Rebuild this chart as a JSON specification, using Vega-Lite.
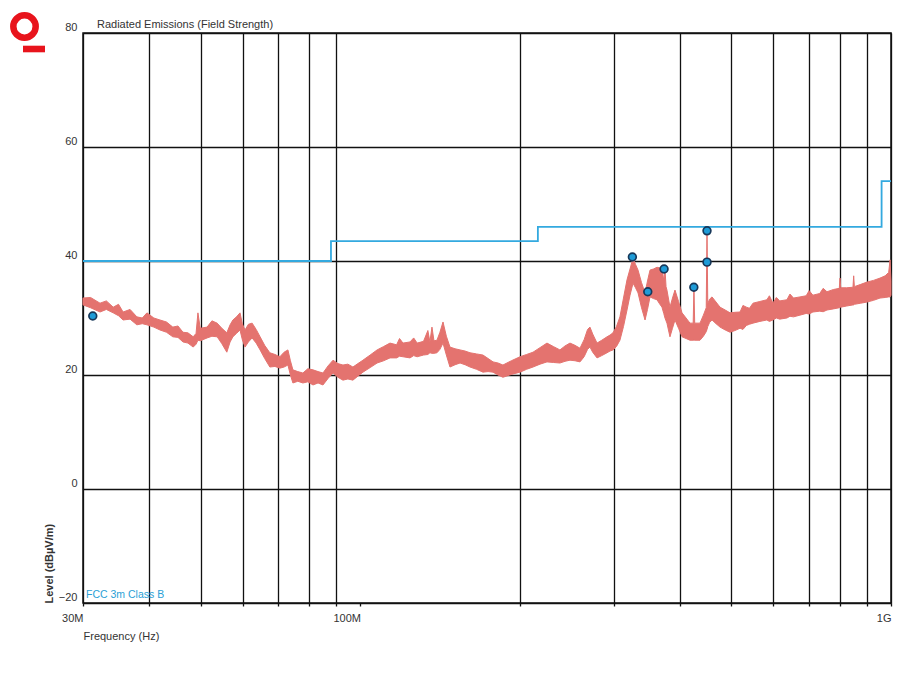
{
  "$schema": "https://vega.github.io/schema/vega-lite/v6.json",
  "width": 808,
  "height": 570,
  "autosize": {"type": "none"},
  "padding": {"left": 83, "top": 33, "right": 15, "bottom": 81},
  "background": "white",
  "config": {
    "font": "Liberation Sans",
    "view": {"stroke": "#111", "strokeWidth": 1.5}
  },
  "datasets": {
    "trace": [
      {"f": 30.0, "lo": 32.3, "hi": 33.5}, {"f": 31.0, "lo": 31.8, "hi": 33.6}, {"f": 32.3, "lo": 31.05, "hi": 32.6},
      {"f": 33.2, "lo": 31.5, "hi": 33.0}, {"f": 34.2, "lo": 30.9, "hi": 31.9}, {"f": 35.0, "lo": 30.4, "hi": 32.4},
      {"f": 35.7, "lo": 29.65, "hi": 31.05}, {"f": 36.8, "lo": 29.8, "hi": 31.5}, {"f": 37.9, "lo": 28.8, "hi": 30.2},
      {"f": 38.8, "lo": 29.0, "hi": 30.0}, {"f": 39.6, "lo": 28.8, "hi": 30.9}, {"f": 40.8, "lo": 28.4, "hi": 30.0},
      {"f": 41.9, "lo": 27.9, "hi": 29.65}, {"f": 43.1, "lo": 27.5, "hi": 29.3}, {"f": 44.3, "lo": 26.7, "hi": 28.4},
      {"f": 45.3, "lo": 26.6, "hi": 28.6}, {"f": 46.3, "lo": 25.8, "hi": 27.5}, {"f": 47.3, "lo": 25.6, "hi": 27.4},
      {"f": 48.4, "lo": 24.9, "hi": 26.7}, {"f": 49.0, "lo": 25.4, "hi": 27.3}, {"f": 49.4, "lo": 26.1, "hi": 30.9},
      {"f": 49.9, "lo": 26.0, "hi": 28.2}, {"f": 51.4, "lo": 26.5, "hi": 28.4}, {"f": 52.5, "lo": 26.8, "hi": 29.5},
      {"f": 53.7, "lo": 26.7, "hi": 29.1}, {"f": 54.8, "lo": 25.5, "hi": 28.2}, {"f": 56.0, "lo": 24.0, "hi": 27.4},
      {"f": 56.8, "lo": 25.8, "hi": 28.8}, {"f": 57.5, "lo": 26.7, "hi": 29.65}, {"f": 58.4, "lo": 27.3, "hi": 30.2},
      {"f": 59.3, "lo": 27.9, "hi": 30.9}, {"f": 59.9, "lo": 26.2, "hi": 29.0}, {"f": 60.6, "lo": 24.9, "hi": 27.9},
      {"f": 61.5, "lo": 25.8, "hi": 28.9}, {"f": 62.5, "lo": 26.5, "hi": 29.1}, {"f": 63.6, "lo": 25.6, "hi": 28.0},
      {"f": 64.7, "lo": 24.4, "hi": 26.7}, {"f": 66.0, "lo": 22.9, "hi": 25.2}, {"f": 67.5, "lo": 21.4, "hi": 23.9},
      {"f": 69.0, "lo": 21.5, "hi": 23.6}, {"f": 70.5, "lo": 21.2, "hi": 23.2}, {"f": 71.8, "lo": 21.4, "hi": 24.0},
      {"f": 73.0, "lo": 21.75, "hi": 24.4}, {"f": 73.8, "lo": 20.0, "hi": 22.5}, {"f": 74.6, "lo": 18.6, "hi": 20.9},
      {"f": 76.2, "lo": 18.9, "hi": 20.6}, {"f": 77.9, "lo": 18.6, "hi": 20.35}, {"f": 79.6, "lo": 18.8, "hi": 21.1},
      {"f": 81.4, "lo": 18.25, "hi": 20.9}, {"f": 83.2, "lo": 18.6, "hi": 20.6}, {"f": 85.0, "lo": 18.25, "hi": 20.35},
      {"f": 86.9, "lo": 19.4, "hi": 21.6}, {"f": 88.8, "lo": 20.35, "hi": 22.6}, {"f": 90.7, "lo": 19.6, "hi": 22.0},
      {"f": 92.7, "lo": 19.1, "hi": 21.75}, {"f": 94.7, "lo": 19.3, "hi": 21.9}, {"f": 96.8, "lo": 19.1, "hi": 21.4},
      {"f": 98.9, "lo": 19.8, "hi": 22.0}, {"f": 101.1, "lo": 20.5, "hi": 22.6}, {"f": 104.3, "lo": 21.3, "hi": 23.5},
      {"f": 107.5, "lo": 22.1, "hi": 24.4}, {"f": 110.6, "lo": 22.5, "hi": 25.0}, {"f": 113.7, "lo": 23.0, "hi": 25.6},
      {"f": 117.0, "lo": 23.0, "hi": 25.3}, {"f": 118.5, "lo": 23.3, "hi": 26.4}, {"f": 120.3, "lo": 23.2, "hi": 25.6},
      {"f": 124.0, "lo": 23.0, "hi": 25.8}, {"f": 126.0, "lo": 23.4, "hi": 26.5}, {"f": 127.9, "lo": 23.2, "hi": 25.6},
      {"f": 131.5, "lo": 23.5, "hi": 25.9}, {"f": 134.0, "lo": 23.6, "hi": 27.8},
      {"f": 135.2, "lo": 23.9, "hi": 25.8}, {"f": 136.4, "lo": 23.8, "hi": 28.4}, {"f": 137.6, "lo": 23.8, "hi": 26.0},
      {"f": 139.4, "lo": 23.9, "hi": 26.1}, {"f": 141.2, "lo": 24.5, "hi": 27.5}, {"f": 143.1, "lo": 25.6, "hi": 29.3},
      {"f": 145.2, "lo": 23.5, "hi": 26.8}, {"f": 147.5, "lo": 21.4, "hi": 24.9}, {"f": 150.8, "lo": 21.8, "hi": 24.6},
      {"f": 154.1, "lo": 22.1, "hi": 24.4}, {"f": 157.5, "lo": 21.8, "hi": 24.2}, {"f": 160.9, "lo": 21.4, "hi": 23.9},
      {"f": 165.5, "lo": 21.0, "hi": 23.7}, {"f": 170.2, "lo": 20.5, "hi": 23.5}, {"f": 174.0, "lo": 20.6, "hi": 22.9},
      {"f": 177.8, "lo": 20.5, "hi": 22.3}, {"f": 181.7, "lo": 20.0, "hi": 22.1}, {"f": 185.6, "lo": 19.6, "hi": 21.75},
      {"f": 192.5, "lo": 20.1, "hi": 22.5}, {"f": 199.9, "lo": 20.5, "hi": 23.2}, {"f": 205.7, "lo": 21.0, "hi": 23.6},
      {"f": 211.5, "lo": 21.4, "hi": 24.0}, {"f": 218.0, "lo": 21.9, "hi": 24.8}, {"f": 224.7, "lo": 22.3, "hi": 25.6},
      {"f": 231.0, "lo": 22.2, "hi": 25.0}, {"f": 237.7, "lo": 22.1, "hi": 24.4}, {"f": 243.0, "lo": 22.4, "hi": 25.1},
      {"f": 248.3, "lo": 22.6, "hi": 25.6}, {"f": 253.8, "lo": 22.5, "hi": 25.2}, {"f": 259.3, "lo": 22.3, "hi": 24.7},
      {"f": 264.0, "lo": 23.2, "hi": 26.2}, {"f": 268.0, "lo": 24.5, "hi": 28.0}, {"f": 270.8, "lo": 24.9, "hi": 28.4},
      {"f": 274.0, "lo": 24.0, "hi": 27.2}, {"f": 279.2, "lo": 23.0, "hi": 25.6}, {"f": 285.0, "lo": 23.4, "hi": 26.1},
      {"f": 291.6, "lo": 23.9, "hi": 26.7}, {"f": 295.4, "lo": 24.2, "hi": 27.0}, {"f": 299.2, "lo": 24.4, "hi": 27.4},
      {"f": 303.8, "lo": 25.0, "hi": 28.5}, {"f": 308.4, "lo": 26.1, "hi": 30.2}, {"f": 313.2, "lo": 28.5, "hi": 33.5},
      {"f": 318.0, "lo": 31.4, "hi": 36.7}, {"f": 322.2, "lo": 34.0, "hi": 38.6}, {"f": 326.4, "lo": 36.1, "hi": 40.5},
      {"f": 330.0, "lo": 35.3, "hi": 39.4}, {"f": 333.6, "lo": 34.4, "hi": 38.4}, {"f": 338.7, "lo": 31.8, "hi": 36.2},
      {"f": 343.9, "lo": 29.65, "hi": 34.4}, {"f": 347.6, "lo": 31.5, "hi": 36.5}, {"f": 351.4, "lo": 33.7, "hi": 38.4},
      {"f": 356.8, "lo": 33.4, "hi": 38.6}, {"f": 362.2, "lo": 33.2, "hi": 38.9}, {"f": 366.2, "lo": 32.5, "hi": 38.8},
      {"f": 370.1, "lo": 31.9, "hi": 38.9}, {"f": 373.0, "lo": 30.8, "hi": 36.5}, {"f": 375.0, "lo": 30.0, "hi": 38.6},
      {"f": 376.7, "lo": 29.5, "hi": 35.5}, {"f": 378.2, "lo": 29.1, "hi": 34.9}, {"f": 383.2, "lo": 26.7, "hi": 31.9},
      {"f": 387.4, "lo": 28.2, "hi": 33.5}, {"f": 391.6, "lo": 29.65, "hi": 34.9}, {"f": 397.7, "lo": 28.2, "hi": 32.9},
      {"f": 403.8, "lo": 26.7, "hi": 30.9}, {"f": 410.9, "lo": 26.4, "hi": 30.0}, {"f": 418.0, "lo": 26.1, "hi": 29.1},
      {"f": 423.8, "lo": 26.1, "hi": 29.1}, {"f": 425.2, "lo": 26.1, "hi": 35.4}, {"f": 426.6, "lo": 26.1, "hi": 29.1},
      {"f": 436.5, "lo": 26.1, "hi": 29.1}, {"f": 443.0, "lo": 26.8, "hi": 30.5}, {"f": 448.5, "lo": 27.6, "hi": 31.8},
      {"f": 450.0, "lo": 28.0, "hi": 45.3}, {"f": 451.5, "lo": 28.5, "hi": 32.5}, {"f": 455.0, "lo": 29.2, "hi": 33.3},
      {"f": 459.9, "lo": 29.65, "hi": 33.7}, {"f": 468.0, "lo": 29.0, "hi": 32.8}, {"f": 476.2, "lo": 28.4, "hi": 31.9},
      {"f": 487.0, "lo": 27.9, "hi": 31.4}, {"f": 497.3, "lo": 27.5, "hi": 30.9}, {"f": 508.0, "lo": 27.8, "hi": 31.0},
      {"f": 519.4, "lo": 28.2, "hi": 31.05}, {"f": 526.0, "lo": 28.0, "hi": 32.2}, {"f": 534.0, "lo": 28.7, "hi": 31.9},
      {"f": 541.0, "lo": 28.9, "hi": 31.7}, {"f": 549.4, "lo": 29.1, "hi": 32.6},
      {"f": 566.0, "lo": 29.4, "hi": 32.9}, {"f": 583.5, "lo": 29.65, "hi": 33.2}, {"f": 590.0, "lo": 29.4, "hi": 33.9},
      {"f": 599.0, "lo": 29.65, "hi": 32.6}, {"f": 608.0, "lo": 30.0, "hi": 33.6},
      {"f": 617.0, "lo": 29.8, "hi": 33.0}, {"f": 636.6, "lo": 30.0, "hi": 33.2}, {"f": 645.0, "lo": 30.3, "hi": 34.2},
      {"f": 655.0, "lo": 30.2, "hi": 33.5},
      {"f": 673.5, "lo": 30.5, "hi": 33.7}, {"f": 692.0, "lo": 30.8, "hi": 33.9}, {"f": 701.0, "lo": 30.7, "hi": 34.8},
      {"f": 712.5, "lo": 31.05, "hi": 34.0},
      {"f": 734.0, "lo": 31.2, "hi": 34.3}, {"f": 745.0, "lo": 31.1, "hi": 35.2}, {"f": 757.4, "lo": 31.4, "hi": 34.6},
      {"f": 779.0, "lo": 31.6, "hi": 35.0},
      {"f": 799.0, "lo": 31.8, "hi": 35.2}, {"f": 801.5, "lo": 31.9, "hi": 37.0}, {"f": 804.0, "lo": 31.9, "hi": 35.3},
      {"f": 825.0, "lo": 32.1, "hi": 35.3}, {"f": 847.9, "lo": 32.3, "hi": 35.4}, {"f": 850.5, "lo": 32.3, "hi": 37.4},
      {"f": 853.0, "lo": 32.4, "hi": 35.5}, {"f": 877.0, "lo": 32.6, "hi": 35.9}, {"f": 901.2, "lo": 32.8, "hi": 36.3},
      {"f": 927.0, "lo": 33.1, "hi": 36.6}, {"f": 953.5, "lo": 33.5, "hi": 37.0}, {"f": 975.0, "lo": 33.6, "hi": 37.4},
      {"f": 990.0, "lo": 33.7, "hi": 38.0}, {"f": 996.0, "lo": 33.7, "hi": 40.2}, {"f": 1000.0, "lo": 34.0, "hi": 36.5}
    ],
    "limit": [
      {"f": 30, "level": 40}, {"f": 88, "level": 43.5}, {"f": 216, "level": 46},
      {"f": 960, "level": 54}, {"f": 1000, "level": 54}
    ],
    "peaks": [
      {"f": 31.3, "level": 30.35}, {"f": 325.5, "level": 40.7}, {"f": 348, "level": 34.6},
      {"f": 373.5, "level": 38.6}, {"f": 425, "level": 35.4}, {"f": 450, "level": 45.3},
      {"f": 450, "level": 39.8}
    ],
    "corner": [{"f": 30, "level": 80, "title": "Radiated Emissions (Field Strength)"}],
    "limitLabel": [{"f": 30, "level": -20, "label": "FCC 3m Class B"}]
  },
  "layer": [
    {
      "data": {"name": "trace"},
      "mark": {"type": "area", "color": "#e4736f", "stroke": "#e4736f", "strokeWidth": 1, "opacity": 1},
      "encoding": {
        "x": {
          "field": "f", "type": "quantitative",
          "scale": {"type": "log", "domain": [30, 1000], "nice": false},
          "axis": {
            "values": [30, 40, 50, 60, 70, 80, 90, 100, 200, 300, 400, 500, 600, 700, 800, 900, 1000],
            "labelExpr": "datum.value == 30 ? '30M' : datum.value == 100 ? '100M' : datum.value == 1000 ? '1G' : ''",
            "grid": true,
            "gridColor": {"condition": {"test": "datum.value == 100", "value": "transparent"}, "value": "#111"},
            "gridWidth": 1.3,
            "gridOpacity": 1,
            "domain": false,
            "ticks": true,
            "tickColor": "#111",
            "tickSize": 3,
            "tickWidth": 1.3,
            "labelAlign": "right",
            "labelFontSize": 11,
            "labelColor": "#333",
            "labelPadding": 6,
            "labelFont": "Liberation Sans",
            "title": "Frequency (Hz)",
            "titleFont": "Liberation Sans",
            "titleFontSize": 11,
            "titleFontWeight": "normal",
            "titleColor": "#333",
            "titleAnchor": "start",
            "titleAlign": "left",
            "titleBaseline": "alphabetic",
            "titleX": 0,
            "titleY": 36
          }
        },
        "y": {
          "field": "lo", "type": "quantitative",
          "scale": {"domain": [-20, 80], "nice": false},
          "axis": {
            "values": [-20, 0, 20, 40, 60, 80],
            "grid": true,
            "gridColor": "#111",
            "gridWidth": 1.3,
            "gridOpacity": 1,
            "domain": false,
            "ticks": false,
            "labelPadding": 6,
            "labelBaseline": "alphabetic",
            "labelOffset": -3,
            "labelFontSize": 11,
            "labelColor": "#333",
            "labelFont": "Liberation Sans",
            "title": "Level (dBµV/m)",
            "titleFont": "Liberation Sans",
            "titleFontSize": 11,
            "titleFontWeight": "bold",
            "titleColor": "#333",
            "titleAnchor": "start",
            "titlePadding": 4
          }
        },
        "y2": {"field": "hi"}
      }
    },
    {
      "data": {"name": "limit"},
      "mark": {"type": "line", "interpolate": "step-after", "color": "#33a9df", "strokeWidth": 1.8},
      "encoding": {
        "x": {"field": "f", "type": "quantitative"},
        "y": {"field": "level", "type": "quantitative"}
      }
    },
    {
      "data": {"name": "peaks"},
      "mark": {"type": "point", "shape": "circle", "filled": true, "size": 60, "fill": "#1e9bd7", "stroke": "#17385a", "strokeWidth": 1.7, "opacity": 1},
      "encoding": {
        "x": {"field": "f", "type": "quantitative"},
        "y": {"field": "level", "type": "quantitative"}
      }
    },
    {
      "data": {"name": "limitLabel"},
      "mark": {"type": "text", "align": "left", "baseline": "bottom", "dx": 3, "dy": -3, "fontSize": 10.5, "color": "#2a9fd6", "font": "Liberation Sans"},
      "encoding": {
        "x": {"field": "f", "type": "quantitative"},
        "y": {"field": "level", "type": "quantitative"},
        "text": {"field": "label"}
      }
    },
    {
      "data": {"name": "corner"},
      "mark": {"type": "text", "align": "left", "baseline": "bottom", "dx": 14, "dy": -3, "fontSize": 11, "color": "#333", "font": "Liberation Sans"},
      "encoding": {
        "x": {"field": "f", "type": "quantitative"},
        "y": {"field": "level", "type": "quantitative"},
        "text": {"field": "title"}
      }
    },
    {
      "data": {"name": "corner"},
      "mark": {"type": "point", "shape": "circle", "filled": false, "size": 500, "stroke": "#e8141c", "strokeWidth": 6.5, "opacity": 1, "xOffset": -58.5, "yOffset": -6.5},
      "encoding": {
        "x": {"field": "f", "type": "quantitative"},
        "y": {"field": "level", "type": "quantitative"}
      }
    },
    {
      "data": {"name": "corner"},
      "mark": {"type": "point", "shape": "M-1,-0.3L1,-0.3L1,0.3L-1,0.3Z", "filled": true, "size": 484, "fill": "#e8141c", "strokeWidth": 0, "opacity": 1, "xOffset": -49, "yOffset": 16}
      ,
      "encoding": {
        "x": {"field": "f", "type": "quantitative"},
        "y": {"field": "level", "type": "quantitative"}
      }
    }
  ]
}
